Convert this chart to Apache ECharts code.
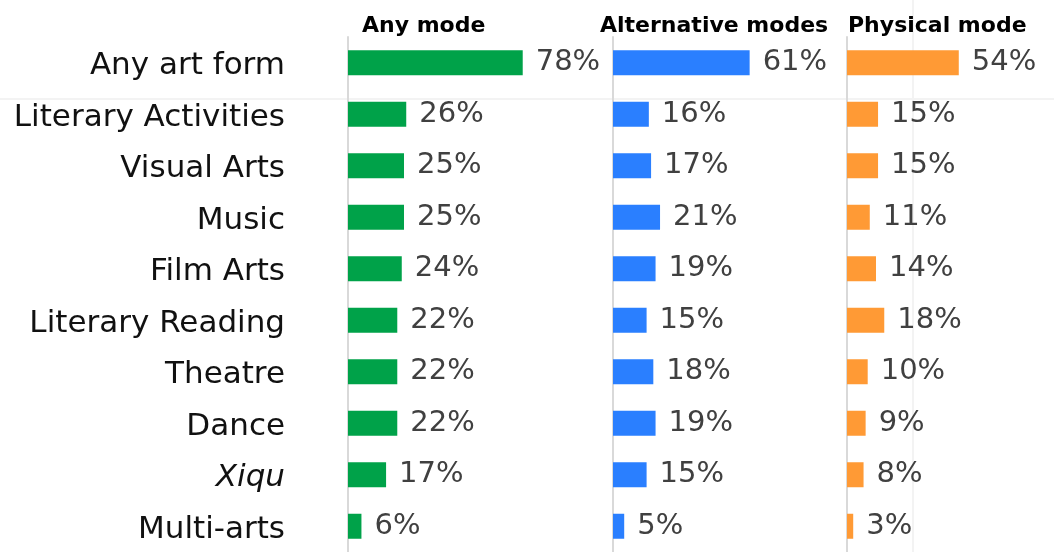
<!DOCTYPE html>
<html>
<head>
<meta charset="utf-8">
<script src="https://cdn.jsdelivr.net/npm/echarts@6/dist/echarts.min.js"></script>
<style>html,body{margin:0;padding:0;background:#fff}#c{width:1054px;height:552px}</style>
</head>
<body>
<div id="c"></div>
<script>
const categories = ["Any art form","Literary Activities","Visual Arts","Music","Film Arts","Literary Reading","Theatre","Dance","Xiqu","Multi-arts"];
const panelTitles = ["Any mode","Alternative modes","Physical mode"];
const anyMode = [78,26,25,25,24,22,22,22,17,6];
const alternativeModes = [61,16,17,21,19,15,18,19,15,5];
const physicalMode = [54,15,15,11,14,18,10,9,8,3];
const colors = ["#00A249","#2A7FFF","#FF9A35"];

const FONT = "'DejaVu Sans', sans-serif";
const lefts = [348, 613, 847];
const titleLefts = [357, 595, 843];
const seriesData = [anyMode, alternativeModes, physicalMode];
const chart = echarts.init(document.getElementById('c'));
const grids = [], xAxes = [], yAxes = [], series = [], titles = [];
for (let i = 0; i < 3; i++) {
  grids.push({left: lefts[i], top: 37, width: 224, height: 519, containLabel: false});
  xAxes.push({type: 'value', gridIndex: i, min: 0, max: 100, show: false});
  yAxes.push({
    type: 'category', gridIndex: i, data: categories, inverse: true,
    axisLine: {show: true, lineStyle: {color: '#d9d9d9', width: 2}},
    axisTick: {show: false},
    axisLabel: {
      show: i === 0, margin: 63, fontSize: 31, color: '#111', fontFamily: FONT,
      padding: [7, 0, 0, 0],
      formatter: v => v === 'Xiqu' ? '{it|' + v + '}' : v,
      rich: {it: {fontStyle: 'italic', fontSize: 31, color: '#111', fontFamily: FONT}}
    }
  });
  series.push({
    type: 'bar', xAxisIndex: i, yAxisIndex: i, data: seriesData[i], barWidth: 25,
    itemStyle: {color: colors[i]},
    label: {show: true, position: 'right', distance: 13, formatter: '{c}%', fontSize: 29, color: '#404040', fontFamily: FONT, padding: [3, 0, 0, 0]},
    silent: true, animation: false
  });
  titles.push({text: panelTitles[i], left: titleLefts[i], top: 10,
    textStyle: {fontSize: 22, fontWeight: 'bold', color: '#000', fontFamily: FONT}});
}
chart.setOption({
  animation: false,
  title: titles,
  graphic: [
    {type: 'line', silent: true, z: -10, shape: {x1: 0, y1: 99, x2: 1054, y2: 99}, style: {stroke: '#f3f3f3', lineWidth: 2}},
    {type: 'line', silent: true, z: -10, shape: {x1: 913, y1: 0, x2: 913, y2: 552}, style: {stroke: '#f3f3f3', lineWidth: 2}}
  ],
  grid: grids, xAxis: xAxes, yAxis: yAxes, series: series
});
</script>
</body>
</html>
